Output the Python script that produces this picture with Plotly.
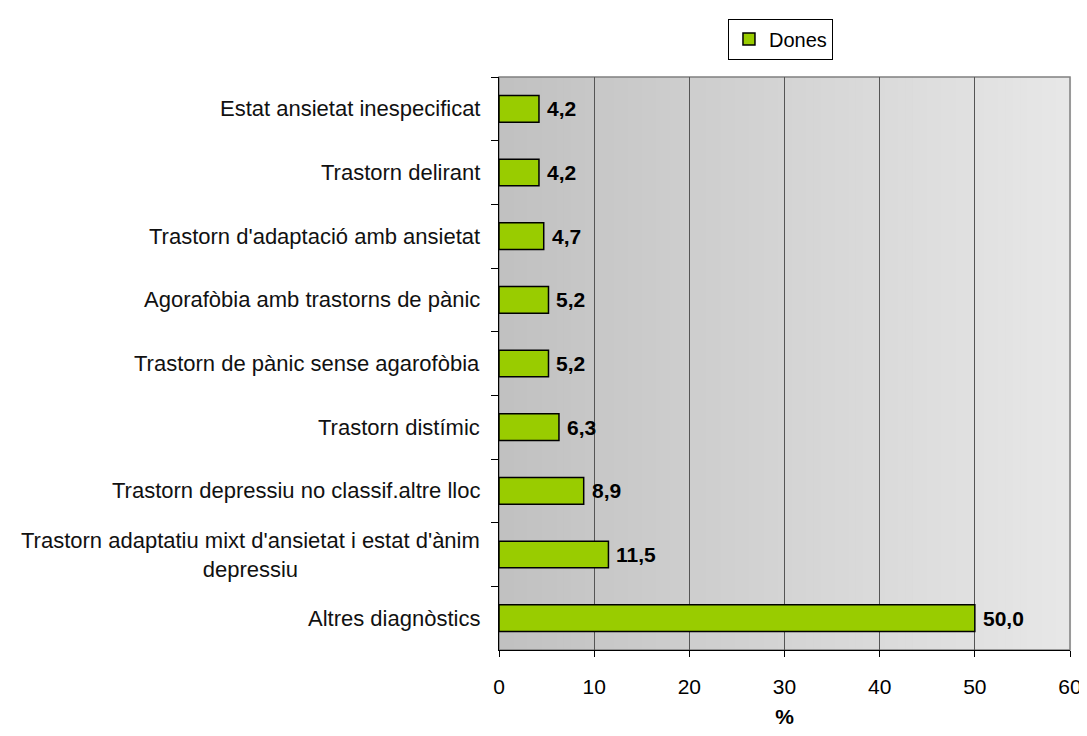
import plotly.graph_objects as go

categories = [
    "Estat ansietat inespecificat",
    "Trastorn delirant",
    "Trastorn d'adaptació amb ansietat",
    "Agorafòbia amb trastorns de pànic",
    "Trastorn de pànic sense agarofòbia",
    "Trastorn distímic",
    "Trastorn depressiu no classif.altre lloc",
    "Trastorn adaptatiu mixt d'ansietat i estat d'ànim<br>depressiu",
    "Altres diagnòstics",
]
values = [4.2, 4.2, 4.7, 5.2, 5.2, 6.3, 8.9, 11.5, 50.0]
series_name = "Dones"
x_ticks = [0, 10, 20, 30, 40, 50, 60]

FONT = "Liberation Sans, Arial"
labels = [f"{v:.1f}".replace(".", ",") for v in values]
ids = [f"c{i}" for i in range(len(categories))]

fig = go.Figure()
fig.add_trace(go.Bar(
    y=ids, x=values, orientation="h", name=series_name,
    marker=dict(color="#99cc00", line=dict(color="#000000", width=1.5)),
    width=0.42,
))

# gradient background
shapes = []
n = 80
for i in range(n):
    t = i / (n - 1)
    c = int(round(193 + (231 - 193) * t))
    shapes.append(dict(type="rect", xref="x domain", yref="y domain",
                       x0=i / n, x1=(i + 1) / n + 0.002, y0=0, y1=1,
                       fillcolor=f"rgb({c},{c},{c})", line=dict(width=0), layer="below"))
shapes.append(dict(type="rect", xref="x domain", yref="y domain", x0=0, x1=1, y0=0, y1=1,
                   line=dict(color="#808080", width=1.5), fillcolor="rgba(0,0,0,0)", layer="below"))

annotations = []
for cid, cat in zip(ids, categories):
    annotations.append(dict(xref="paper", yref="y", x=0, y=cid, xshift=-17,
                            text=cat, showarrow=False, xanchor="right", align="center",
                            font=dict(family=FONT, size=22, color="#111111")))
for cid, v, lab in zip(ids, values, labels):
    annotations.append(dict(xref="x", yref="y", x=v, y=cid, xshift=6,
                            text=f"<b>{lab}</b>", showarrow=False, xanchor="left",
                            font=dict(family=FONT, size=21, color="#000000")))

fig.update_layout(
    width=1079, height=720,
    margin=dict(l=491, r=17, t=68, b=78),
    paper_bgcolor="white", plot_bgcolor="rgba(0,0,0,0)",
    font=dict(family=FONT, size=21, color="#000000"),
    shapes=shapes, annotations=annotations,
    showlegend=True,
    legend=dict(x=0.401, y=1.1, xanchor="left", yanchor="top", orientation="h",
                bordercolor="#000000", borderwidth=1, bgcolor="white",
                font=dict(size=20, family=FONT), itemwidth=30),
)
fig.update_xaxes(range=[0, 60], tickvals=x_ticks, ticktext=[str(t) for t in x_ticks],
                 showgrid=True, gridcolor="#555555", gridwidth=1,
                 ticks="outside", ticklen=6, tickcolor="#000000",
                 showline=True, linecolor="#000000", linewidth=1, zeroline=False,
                 tickfont=dict(size=21), ticklabelstandoff=12, ticklabeloverflow="allow",
                 automargin=False,
                 title=dict(text="<b>%</b>", font=dict(size=21), standoff=25))
fig.update_yaxes(autorange="reversed", categoryorder="array", categoryarray=ids,
                 showticklabels=False, ticks="outside", tickson="boundaries", ticklen=7,
                 tickcolor="#000000", showline=True, linecolor="#000000", linewidth=1,
                 showgrid=False, zeroline=False, automargin=False)

fig.write_html("out.html")
